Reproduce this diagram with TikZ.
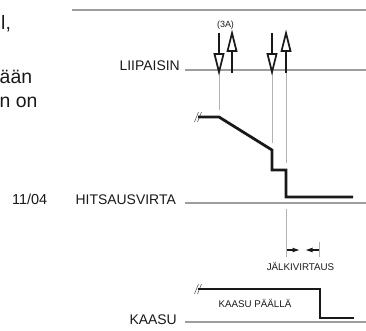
\documentclass[tikz,border=0pt]{standalone}
\usepackage{fontspec}
\setmainfont{Liberation Sans}
\usetikzlibrary{arrows.meta}
\tikzset{
  grayline/.style={draw=black!38, line width=1.2bp},
  guide/.style={draw=black!30, line width=1bp},
  sig/.style={draw=black!90, line width=2.8bp, line join=miter, line cap=butt},
  shaft/.style={draw=black!90, line width=2.8bp},
  hollowhead/.style={draw=black!90, line width=1.7bp, fill=white, line join=miter},
  brk/.style={draw=black!55, line width=0.7bp},
  biglabel/.style={font=\fontsize{14}{16}\selectfont, inner sep=0pt, anchor=base east, text=black!90},
  smalllabel/.style={font=\fontsize{9.8}{11}\selectfont, inner sep=0pt, anchor=base, text=black!90},
  fragment/.style={font=\fontsize{19.5}{22}\selectfont, inner sep=0pt, anchor=base west, text=black!90},
  dimarrow/.style={draw=black!90, line width=1.2bp, -{Latex[length=7.5bp,width=5bp]}},
}
\begin{document}
\begin{tikzpicture}[x=1bp,y=-1bp]
\useasboundingbox (0,0) rectangle (366,331);

% text fragments at left edge
\node[fragment] (f1) at (1,29) {l,};
\node[fragment] (f2) at (-0.5,83) {ään};
\node[fragment] (f3) at (-0.5,107) {n on};

% top rule
\coordinate (topL) at (72,10);
\coordinate (topR) at (366,10);
\draw[grayline] (topL) -- (topR);

% labels and base lines
\node[biglabel] (liip) at (180,70) {LIIPAISIN};
\node[biglabel] (hits) at (176,204) {HITSAUSVIRTA};
\node[biglabel] (kaasu) at (177,324) {KAASU};
\node[font=\fontsize{14.5}{16}\selectfont, inner sep=0pt, anchor=base west, text=black!90] (date) at (12,204) {11/04};

\coordinate (l1a) at (185,70);  \coordinate (l1b) at (366,70);
\coordinate (l2a) at (185,203); \coordinate (l2b) at (366,203);
\coordinate (l3a) at (185,322); \coordinate (l3b) at (366,322);
\draw[grayline] (l1a) -- (l1b);
\draw[grayline] (l2a) -- (l2b);
\draw[grayline] (l3a) -- (l3b);

% guide lines from trigger arrows
\coordinate (g1a) at (219,72); \coordinate (g1b) at (219,110);
\coordinate (g2a) at (272,72); \coordinate (g2b) at (272,143);
\coordinate (g3a) at (286,72); \coordinate (g3b) at (286,163);
\draw[guide] (g1a) -- (g1b);
\draw[guide] (g2a) -- (g2b);
\draw[guide] (g3a) -- (g3b);

% trigger arrows, pair 1
\node[smalllabel, font=\fontsize{9}{10}\selectfont] (a3) at (225.5,27) {(3A)};
\draw[shaft] (219,33) -- (219,55);
\draw[hollowhead] (214.5,54) -- (223.5,54) -- (219,72) -- cycle;
\draw[shaft] (232,50) -- (232,73);
\draw[hollowhead] (227.5,51) -- (236.5,51) -- (232,33) -- cycle;
% trigger arrows, pair 2
\draw[shaft] (272,33) -- (272,55);
\draw[hollowhead] (267.5,54) -- (276.5,54) -- (272,72) -- cycle;
\draw[shaft] (286,50) -- (286,73);
\draw[hollowhead] (281.5,51) -- (290.5,51) -- (286,33) -- cycle;

% welding current waveform
\draw[brk] (194.5,122) -- (198.5,112);
\draw[brk] (197.5,122) -- (201.5,112);
\coordinate (c0) at (198,117);
\coordinate (c1) at (219,117);
\coordinate (c2) at (272,150);
\coordinate (c3) at (272,170);
\coordinate (c4) at (286,170);
\coordinate (c5) at (286,197);
\coordinate (c6) at (353,197);
\draw[sig] (c0) -- (c1) -- (c2) -- (c3) -- (c4) -- (c5) -- (c6);

% post-flow dimension
\coordinate (d1a) at (286,209); \coordinate (d1b) at (286,257);
\coordinate (d2a) at (319,242); \coordinate (d2b) at (319,257);
\draw[guide] (d1a) -- (d1b);
\draw[guide] (d2a) -- (d2b);
\coordinate (da) at (286.5,250); \coordinate (dam) at (300,250);
\coordinate (db) at (318.5,250); \coordinate (dbm) at (305,250);
\draw[dimarrow] (da) -- (dam);
\draw[dimarrow] (db) -- (dbm);
\node[smalllabel] (jalki) at (300.5,270) {JÄLKIVIRTAUS};

% gas waveform
\draw[brk] (194.5,294) -- (198.5,284);
\draw[brk] (197.5,294) -- (201.5,284);
\coordinate (k0) at (198,289);
\coordinate (k1) at (320,289);
\coordinate (k2) at (320,318);
\coordinate (k3) at (354,318);
\draw[sig] (k0) -- (k1) -- (k2) -- (k3);
\node[smalllabel] (kp) at (255,307.5) {KAASU PÄÄLLÄ};
\end{tikzpicture}
\end{document}
